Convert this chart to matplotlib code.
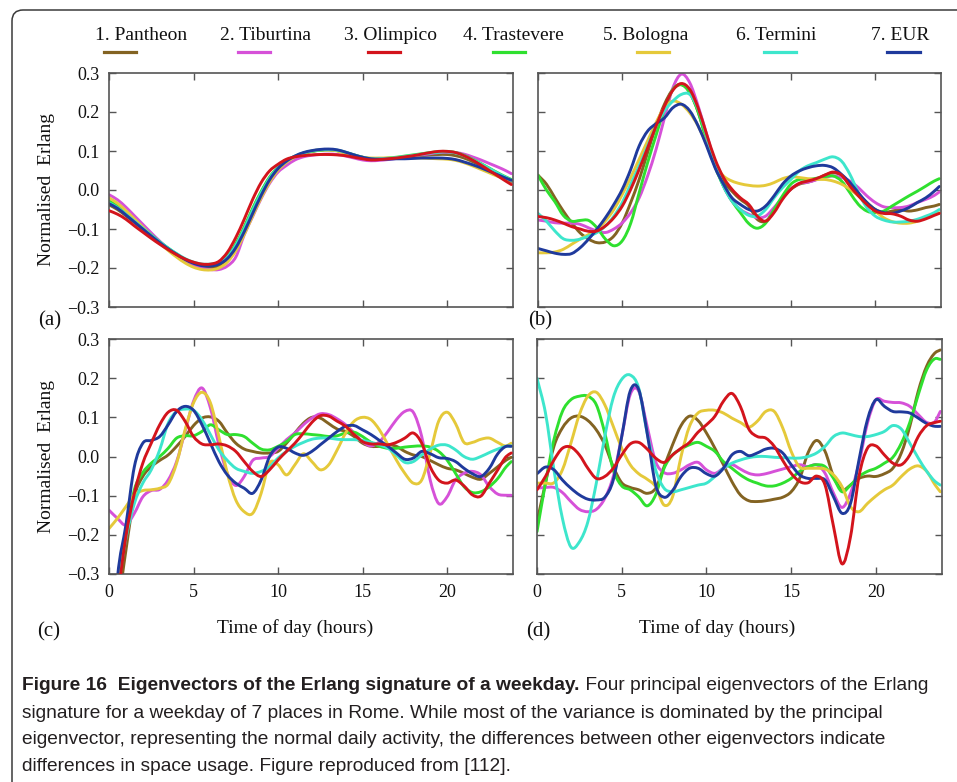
import numpy as np
import matplotlib
matplotlib.use('Agg')
import matplotlib.pyplot as plt
from matplotlib.lines import Line2D
from matplotlib.path import Path
from matplotlib.patches import FancyBboxPatch, PathPatch
from matplotlib.transforms import IdentityTransform

W, H = 957, 782

places = ['1. Pantheon', '2. Tiburtina', '3. Olimpico', '4. Trastevere',
          '5. Bologna', '6. Termini', '7. EUR']
colors = ['#836322', '#d651d8', '#d3141c', '#2fe02f', '#e5c93a', '#3de6cc', '#1f3a9c']

# half-hourly samples, last one just before midnight
hours = np.r_[np.arange(0, 24, 0.5), 23.8]

# (a) first eigenvector
pantheon_a = [-0.038, -0.05, -0.066, -0.083, -0.1, -0.118, -0.135, -0.151, -0.166, -0.18, -0.191, -0.198, -0.2, -0.195, -0.177, -0.143, -0.098, -0.05, -0.006, 0.031, 0.057, 0.074, 0.086, 0.094, 0.099, 0.102, 0.103, 0.101, 0.096, 0.09, 0.084, 0.08, 0.079, 0.08, 0.082, 0.084, 0.086, 0.088, 0.09, 0.091, 0.091, 0.088, 0.082, 0.073, 0.063, 0.052, 0.041, 0.029, 0.022]
tiburtina_a = [-0.012, -0.025, -0.044, -0.066, -0.088, -0.11, -0.131, -0.15, -0.167, -0.182, -0.193, -0.2, -0.204, -0.204, -0.195, -0.172, -0.115, -0.068, -0.022, 0.017, 0.046, 0.063, 0.077, 0.085, 0.089, 0.091, 0.092, 0.091, 0.087, 0.082, 0.077, 0.075, 0.076, 0.078, 0.081, 0.084, 0.087, 0.09, 0.093, 0.096, 0.097, 0.096, 0.092, 0.085, 0.077, 0.068, 0.059, 0.049, 0.042]
olimpico_a = [-0.053, -0.062, -0.075, -0.092, -0.108, -0.124, -0.139, -0.153, -0.166, -0.177, -0.185, -0.19, -0.19, -0.183, -0.16, -0.122, -0.075, -0.024, 0.019, 0.049, 0.066, 0.079, 0.085, 0.088, 0.09, 0.091, 0.091, 0.09, 0.088, 0.084, 0.08, 0.077, 0.078, 0.08, 0.082, 0.085, 0.088, 0.092, 0.096, 0.099, 0.099, 0.096, 0.088, 0.077, 0.064, 0.05, 0.036, 0.022, 0.014]
trastevere_a = [-0.028, -0.041, -0.059, -0.078, -0.097, -0.115, -0.133, -0.149, -0.164, -0.177, -0.186, -0.191, -0.191, -0.186, -0.17, -0.138, -0.095, -0.047, -0.004, 0.033, 0.058, 0.075, 0.086, 0.094, 0.099, 0.102, 0.103, 0.101, 0.096, 0.089, 0.083, 0.08, 0.08, 0.082, 0.084, 0.087, 0.09, 0.093, 0.096, 0.098, 0.099, 0.096, 0.089, 0.079, 0.068, 0.056, 0.044, 0.033, 0.027]
bologna_a = [-0.02, -0.034, -0.053, -0.074, -0.095, -0.116, -0.136, -0.155, -0.172, -0.187, -0.198, -0.204, -0.205, -0.2, -0.185, -0.156, -0.114, -0.066, -0.02, 0.02, 0.051, 0.071, 0.085, 0.094, 0.1, 0.103, 0.103, 0.1, 0.094, 0.088, 0.084, 0.082, 0.082, 0.082, 0.082, 0.082, 0.082, 0.082, 0.081, 0.08, 0.079, 0.076, 0.07, 0.062, 0.053, 0.044, 0.035, 0.028, 0.024]
termini_a = [-0.033, -0.045, -0.062, -0.08, -0.098, -0.116, -0.133, -0.149, -0.163, -0.176, -0.185, -0.19, -0.19, -0.186, -0.172, -0.142, -0.1, -0.052, -0.008, 0.03, 0.057, 0.075, 0.087, 0.095, 0.1, 0.103, 0.104, 0.102, 0.097, 0.09, 0.084, 0.08, 0.08, 0.081, 0.083, 0.086, 0.089, 0.092, 0.095, 0.097, 0.098, 0.095, 0.088, 0.078, 0.067, 0.055, 0.043, 0.032, 0.025]
eur_a = [-0.035, -0.047, -0.064, -0.082, -0.1, -0.118, -0.135, -0.151, -0.165, -0.178, -0.188, -0.194, -0.195, -0.19, -0.176, -0.148, -0.107, -0.06, -0.014, 0.026, 0.055, 0.074, 0.087, 0.096, 0.101, 0.104, 0.105, 0.103, 0.097, 0.09, 0.084, 0.08, 0.079, 0.079, 0.08, 0.08, 0.081, 0.082, 0.082, 0.082, 0.081, 0.078, 0.072, 0.065, 0.057, 0.048, 0.039, 0.03, 0.025]

# (b) second eigenvector
pantheon_b = [0.038, 0.015, -0.02, -0.054, -0.084, -0.11, -0.126, -0.135, -0.133, -0.118, -0.084, -0.032, 0.027, 0.096, 0.164, 0.22, 0.258, 0.27, 0.25, 0.2, 0.13, 0.066, 0.023, -0.003, -0.024, -0.041, -0.075, -0.08, -0.054, -0.02, 0.002, 0.015, 0.02, 0.027, 0.038, 0.044, 0.038, 0.015, -0.011, -0.032, -0.05, -0.058, -0.054, -0.051, -0.054, -0.051, -0.045, -0.041, -0.037]
tiburtina_b = [-0.077, -0.08, -0.084, -0.085, -0.085, -0.088, -0.097, -0.105, -0.109, -0.1, -0.084, -0.058, -0.02, 0.036, 0.104, 0.185, 0.262, 0.297, 0.275, 0.215, 0.143, 0.07, 0.01, -0.028, -0.05, -0.062, -0.071, -0.067, -0.045, -0.02, 0.003, 0.017, 0.02, 0.026, 0.032, 0.036, 0.032, 0.023, 0.006, -0.015, -0.032, -0.043, -0.045, -0.045, -0.041, -0.032, -0.024, -0.014, -0.005]
olimpico_b = [-0.068, -0.071, -0.077, -0.085, -0.094, -0.1, -0.106, -0.105, -0.092, -0.071, -0.041, 0.002, 0.053, 0.108, 0.164, 0.215, 0.256, 0.273, 0.258, 0.21, 0.143, 0.079, 0.032, 0.002, -0.02, -0.037, -0.067, -0.08, -0.058, -0.024, 0.002, 0.017, 0.023, 0.029, 0.038, 0.046, 0.038, 0.01, -0.015, -0.037, -0.054, -0.06, -0.061, -0.067, -0.077, -0.08, -0.074, -0.065, -0.06]
trastevere_b = [0.038, 0.0, -0.03, -0.065, -0.08, -0.078, -0.078, -0.097, -0.126, -0.143, -0.13, -0.085, -0.007, 0.07, 0.14, 0.207, 0.258, 0.27, 0.25, 0.2, 0.125, 0.06, 0.01, -0.028, -0.058, -0.086, -0.098, -0.085, -0.05, -0.015, 0.015, 0.027, 0.027, 0.03, 0.034, 0.036, 0.023, -0.007, -0.037, -0.054, -0.058, -0.054, -0.041, -0.028, -0.015, -0.003, 0.01, 0.023, 0.029]
bologna_b = [-0.161, -0.161, -0.159, -0.152, -0.139, -0.126, -0.114, -0.101, -0.079, -0.05, -0.011, 0.032, 0.079, 0.126, 0.173, 0.211, 0.228, 0.22, 0.198, 0.164, 0.117, 0.066, 0.036, 0.023, 0.016, 0.012, 0.01, 0.012, 0.019, 0.029, 0.034, 0.032, 0.029, 0.027, 0.027, 0.023, 0.015, 0.002, -0.015, -0.032, -0.054, -0.071, -0.081, -0.085, -0.085, -0.08, -0.071, -0.062, -0.058]
termini_b = [-0.06, -0.08, -0.105, -0.125, -0.129, -0.126, -0.118, -0.109, -0.092, -0.067, -0.032, 0.015, 0.062, 0.113, 0.164, 0.203, 0.228, 0.245, 0.245, 0.207, 0.138, 0.066, 0.01, -0.028, -0.05, -0.065, -0.067, -0.05, -0.02, 0.006, 0.027, 0.049, 0.062, 0.07, 0.079, 0.085, 0.074, 0.04, -0.007, -0.045, -0.067, -0.077, -0.082, -0.082, -0.08, -0.075, -0.067, -0.058, -0.05]
eur_b = [-0.15, -0.156, -0.162, -0.165, -0.163, -0.148, -0.126, -0.1, -0.071, -0.037, 0.002, 0.053, 0.113, 0.151, 0.17, 0.185, 0.211, 0.22, 0.203, 0.164, 0.113, 0.057, 0.015, -0.02, -0.037, -0.05, -0.054, -0.041, -0.015, 0.015, 0.036, 0.049, 0.057, 0.062, 0.063, 0.057, 0.04, 0.019, -0.007, -0.032, -0.05, -0.058, -0.06, -0.054, -0.045, -0.032, -0.02, -0.003, 0.009]

# (c) third eigenvector
pantheon_c = [-0.6, -0.4, -0.24, -0.103, -0.051, -0.026, -0.01, 0.004, 0.026, 0.051, 0.079, 0.098, 0.101, 0.09, 0.06, 0.034, 0.019, 0.013, 0.009, 0.009, 0.013, 0.034, 0.06, 0.085, 0.1, 0.098, 0.084, 0.07, 0.064, 0.051, 0.034, 0.026, 0.026, 0.03, 0.026, 0.013, 0.004, 0.0, -0.01, -0.021, -0.03, -0.034, -0.043, -0.053, -0.058, -0.043, -0.026, -0.009, -0.002]
tiburtina_c = [-0.137, -0.158, -0.175, -0.145, -0.103, -0.087, -0.084, -0.06, -0.013, 0.064, 0.141, 0.175, 0.124, 0.03, -0.043, -0.074, -0.051, -0.01, -0.004, 0.0, 0.021, 0.043, 0.06, 0.081, 0.098, 0.109, 0.107, 0.096, 0.081, 0.06, 0.038, 0.027, 0.038, 0.064, 0.094, 0.115, 0.113, 0.051, -0.06, -0.12, -0.103, -0.06, -0.043, -0.038, -0.047, -0.077, -0.096, -0.099, -0.099]
olimpico_c = [-0.6, -0.37, -0.205, -0.094, -0.017, 0.034, 0.081, 0.113, 0.118, 0.09, 0.051, 0.032, 0.03, 0.032, 0.027, 0.013, -0.013, -0.038, -0.051, -0.034, -0.009, 0.013, 0.034, 0.06, 0.087, 0.104, 0.103, 0.09, 0.077, 0.056, 0.038, 0.032, 0.032, 0.03, 0.036, 0.047, 0.06, 0.034, -0.026, -0.06, -0.068, -0.06, -0.075, -0.098, -0.101, -0.068, -0.034, 0.0, 0.009]
trastevere_c = [-0.55, -0.36, -0.2, -0.085, -0.041, -0.017, 0.0, 0.021, 0.047, 0.053, 0.053, 0.064, 0.081, 0.068, 0.056, 0.056, 0.051, 0.034, 0.019, 0.017, 0.026, 0.038, 0.056, 0.058, 0.056, 0.054, 0.051, 0.053, 0.06, 0.062, 0.051, 0.036, 0.026, 0.021, 0.021, 0.024, 0.026, 0.027, 0.024, 0.013, -0.009, -0.043, -0.077, -0.092, -0.09, -0.077, -0.056, -0.026, -0.013]
bologna_c = [-0.184, -0.158, -0.128, -0.098, -0.087, -0.085, -0.081, -0.07, -0.017, 0.068, 0.137, 0.164, 0.137, 0.051, -0.043, -0.111, -0.141, -0.145, -0.094, -0.017, -0.021, -0.047, -0.021, 0.007, -0.013, -0.034, -0.021, 0.017, 0.06, 0.09, 0.1, 0.094, 0.068, 0.03, -0.009, -0.043, -0.068, -0.06, 0.009, 0.09, 0.113, 0.084, 0.036, 0.036, 0.044, 0.047, 0.036, 0.027, 0.034]
termini_c = [-0.52, -0.34, -0.21, -0.12, -0.068, -0.034, 0.017, 0.085, 0.115, 0.121, 0.118, 0.094, 0.056, 0.017, -0.01, -0.03, -0.038, -0.043, -0.038, -0.026, -0.004, 0.013, 0.026, 0.036, 0.044, 0.047, 0.047, 0.044, 0.043, 0.043, 0.041, 0.036, 0.03, 0.021, 0.004, -0.015, -0.013, 0.004, 0.019, 0.029, 0.029, 0.017, 0.0, -0.007, 0.0, 0.01, 0.019, 0.026, 0.027]
eur_c = [-0.62, -0.31, -0.175, -0.026, 0.034, 0.041, 0.051, 0.081, 0.115, 0.128, 0.118, 0.081, 0.034, -0.013, -0.047, -0.068, -0.081, -0.094, -0.06, 0.0, 0.024, 0.021, 0.009, 0.003, 0.013, 0.03, 0.047, 0.064, 0.077, 0.079, 0.068, 0.056, 0.041, 0.026, 0.009, -0.007, -0.004, 0.013, 0.007, -0.003, -0.005, -0.013, -0.03, -0.044, -0.051, -0.03, 0.007, 0.026, 0.026]

# (d) fourth eigenvector
pantheon_d = [-0.167, -0.068, 0.026, 0.073, 0.098, 0.103, 0.092, 0.068, 0.03, -0.026, -0.067, -0.079, -0.085, -0.094, -0.081, -0.026, 0.03, 0.079, 0.103, 0.092, 0.06, 0.021, -0.021, -0.064, -0.098, -0.113, -0.115, -0.113, -0.109, -0.104, -0.09, -0.056, 0.01, 0.041, 0.013, -0.051, -0.085, -0.073, -0.056, -0.05, -0.051, -0.044, -0.03, 0.009, 0.077, 0.167, 0.231, 0.265, 0.272]
tiburtina_d = [-0.081, -0.079, -0.079, -0.092, -0.115, -0.135, -0.141, -0.135, -0.107, -0.051, 0.051, 0.158, 0.167, 0.077, -0.013, -0.041, -0.043, -0.034, -0.021, -0.015, -0.034, -0.043, -0.03, -0.021, -0.032, -0.043, -0.047, -0.044, -0.038, -0.032, -0.026, -0.021, -0.026, -0.021, -0.043, -0.094, -0.13, -0.094, -0.017, 0.085, 0.145, 0.141, 0.138, 0.137, 0.128, 0.107, 0.087, 0.09, 0.115]
olimpico_d = [-0.085, -0.051, -0.009, 0.021, 0.024, 0.004, -0.03, -0.056, -0.051, -0.03, 0.004, 0.032, 0.036, 0.019, -0.004, -0.015, 0.004, 0.021, 0.036, 0.062, 0.081, 0.103, 0.141, 0.161, 0.128, 0.07, 0.051, 0.047, 0.026, -0.01, -0.043, -0.064, -0.067, -0.05, -0.073, -0.179, -0.274, -0.205, -0.051, 0.021, 0.027, 0.004, -0.017, -0.021, 0.004, 0.051, 0.079, 0.087, 0.09]
trastevere_d = [-0.192, -0.068, 0.043, 0.115, 0.145, 0.154, 0.154, 0.132, 0.06, -0.034, -0.075, -0.085, -0.103, -0.126, -0.098, -0.03, 0.004, 0.019, 0.03, 0.036, 0.026, 0.013, -0.013, -0.03, -0.047, -0.06, -0.068, -0.075, -0.075, -0.068, -0.056, -0.038, -0.026, -0.021, -0.026, -0.056, -0.09, -0.073, -0.051, -0.038, -0.03, -0.017, -0.002, 0.034, 0.087, 0.158, 0.222, 0.25, 0.248]
bologna_d = [-0.068, -0.068, -0.067, -0.034, 0.034, 0.107, 0.154, 0.164, 0.132, 0.077, 0.021, -0.021, -0.044, -0.058, -0.077, -0.124, -0.103, 0.0, 0.077, 0.111, 0.118, 0.118, 0.111, 0.098, 0.087, 0.075, 0.09, 0.115, 0.115, 0.073, 0.013, -0.027, -0.03, -0.03, -0.032, -0.047, -0.077, -0.128, -0.141, -0.12, -0.101, -0.085, -0.073, -0.051, -0.032, -0.024, -0.038, -0.073, -0.09]
termini_d = [0.2, 0.111, -0.034, -0.158, -0.231, -0.218, -0.167, -0.068, 0.051, 0.15, 0.197, 0.208, 0.175, 0.06, -0.034, -0.081, -0.09, -0.085, -0.079, -0.073, -0.068, -0.051, -0.03, -0.017, -0.009, -0.003, 0.0, 0.0, -0.002, -0.003, -0.004, -0.004, 0.0, 0.009, 0.026, 0.051, 0.06, 0.056, 0.051, 0.051, 0.056, 0.064, 0.079, 0.07, 0.034, -0.004, -0.038, -0.064, -0.073]
eur_d = [-0.044, -0.027, -0.034, -0.06, -0.081, -0.098, -0.109, -0.111, -0.104, -0.06, 0.051, 0.167, 0.171, 0.06, -0.073, -0.104, -0.087, -0.051, -0.03, -0.03, -0.044, -0.05, -0.03, 0.004, 0.013, 0.002, 0.009, 0.019, 0.021, 0.009, -0.021, -0.047, -0.056, -0.056, -0.06, -0.103, -0.145, -0.12, -0.009, 0.094, 0.145, 0.128, 0.115, 0.114, 0.111, 0.098, 0.084, 0.077, 0.077]

x_ticks = [0, 5, 10, 15, 20]
y_ticks = [-0.3, -0.2, -0.1, 0.0, 0.1, 0.2, 0.3]
y_ticklabels = ['\u22120.3', '\u22120.2', '\u22120.1', '0.0', '0.1', '0.2', '0.3']

caption_bold = 'Figure 16  Eigenvectors of the Erlang signature of a weekday.'
caption_lines = [
    ' Four principal eigenvectors of the Erlang',
    'signature for a weekday of 7 places in Rome. While most of the variance is dominated by the principal',
    'eigenvector, representing the normal daily activity, the differences between other eigenvectors indicate',
    'differences in space usage. Figure reproduced from [112].',
]

panels = {
    'a': [pantheon_a, tiburtina_a, olimpico_a, trastevere_a, bologna_a, termini_a, eur_a],
    'b': [pantheon_b, tiburtina_b, olimpico_b, trastevere_b, bologna_b, termini_b, eur_b],
    'c': [pantheon_c, tiburtina_c, olimpico_c, trastevere_c, bologna_c, termini_c, eur_c],
    'd': [pantheon_d, tiburtina_d, olimpico_d, trastevere_d, bologna_d, termini_d, eur_d],
}

plt.rcParams['font.family'] = ['Liberation Serif', 'DejaVu Serif']
AX_COL = '#555555'
TXT = '#111111'

fig = plt.figure(figsize=(W / 100, H / 100), dpi=100)


def fx(x):
    return x / W


def fy(y):
    return 1 - y / H


def smooth_path(x, y):
    # cubic Hermite segments through the samples (finite-difference slopes)
    x = np.asarray(x, float)
    y = np.asarray(y, float)
    m = np.gradient(y, x)
    verts = [(x[0], y[0])]
    codes = [Path.MOVETO]
    for i in range(len(x) - 1):
        dx = x[i + 1] - x[i]
        verts += [(x[i] + dx / 3, y[i] + m[i] * dx / 3),
                  (x[i + 1] - dx / 3, y[i + 1] - m[i + 1] * dx / 3),
                  (x[i + 1], y[i + 1])]
        codes += [Path.CURVE4] * 3
    return Path(verts, codes)


# outer rounded frame (runs off the right and bottom edges)
frame = FancyBboxPatch((12, -40), 1000, H - 10 + 40, boxstyle='round,pad=0,rounding_size=11',
                       transform=IdentityTransform(), facecolor='none',
                       edgecolor='#3a3a3a', linewidth=1.1)
fig.add_artist(frame)

# axes boxes in pixels: left, top, right, bottom
boxes = {'a': (109, 73, 513, 307), 'b': (538, 73, 941, 307),
         'c': (109, 339, 513, 574), 'd': (537, 339, 942, 574)}
letter_pos = {'a': (50, 321), 'b': (540, 321), 'c': (49, 632), 'd': (538, 632)}

for key, series in panels.items():
    l, t, r, b = boxes[key]
    ax = fig.add_axes([fx(l), fy(b), (r - l) / W, (b - t) / H])
    for i, (vals, col) in enumerate(zip(series, colors)):
        ax.add_patch(PathPatch(smooth_path(hours, vals), facecolor='none', edgecolor=col,
                               lw=2.1, joinstyle='round', capstyle='round',
                               zorder=3 if i == 2 else 2))
    ax.set_xlim(0, 23.9)
    ax.set_ylim(-0.3, 0.3)
    ax.set_xticks(x_ticks)
    ax.set_yticks(y_ticks)
    ax.tick_params(direction='in', top=True, right=True, length=5, width=1,
                   color=AX_COL, labelsize=13, pad=7, labelcolor=TXT)
    for s in ax.spines.values():
        s.set_color(AX_COL)
        s.set_linewidth(1.2)
    if key in 'ac':
        ax.set_yticklabels(y_ticklabels)
        ax.set_ylabel('Normalised  Erlang', fontsize=14, color=TXT)
        ax.yaxis.set_label_coords(-0.134, 0.5)
    else:
        ax.set_yticklabels([])
    if key in 'cd':
        ax.set_xticklabels([str(v) for v in x_ticks])
        ax.set_xlabel('Time of day (hours)', fontsize=14, color=TXT)
        ax.xaxis.set_label_coords(0.46 if key == 'c' else 0.444, -0.19)
    else:
        ax.set_xticklabels([])
    px, py = letter_pos[key]
    fig.text(fx(px), fy(py), '(%s)' % key, fontsize=15, ha='center', va='center', color=TXT)

# legend across the top: label above a short line sample
label_x = [141, 265, 390, 513, 646, 776, 900]
sample_x = [(104, 136), (238, 270), (368, 400), (493, 525), (637, 669), (764, 796), (887, 920)]
for name, col, lx, (x0, x1) in zip(places, colors, label_x, sample_x):
    fig.text(fx(lx), fy(35), name, fontsize=14, ha='center', va='center', color=TXT)
    fig.add_artist(Line2D([fx(x0), fx(x1)], [fy(52), fy(52)], color=col, lw=2.3,
                          transform=fig.transFigure))

# caption below the panels
cap_font = ['Liberation Sans', 'DejaVu Sans']
cap_size = 13.8
cap = fig.add_axes([0, 0, 1, 1])
cap.set_axis_off()
cap.set_xlim(0, 1)
cap.set_ylim(0, 1)
bold = cap.text(fx(22), fy(685), caption_bold, fontsize=cap_size, fontweight='bold',
                family=cap_font, ha='left', va='center', color='#231f20')
cap.annotate(caption_lines[0], xy=(1, 0.5), xycoords=bold, fontsize=cap_size, family=cap_font,
             ha='left', va='center', color='#231f20')
for k, line in enumerate(caption_lines[1:]):
    cap.text(fx(22), fy(713 + 26.7 * k), line, fontsize=cap_size, family=cap_font,
             ha='left', va='center', color='#231f20')

fig.savefig('out.png', dpi=100)
